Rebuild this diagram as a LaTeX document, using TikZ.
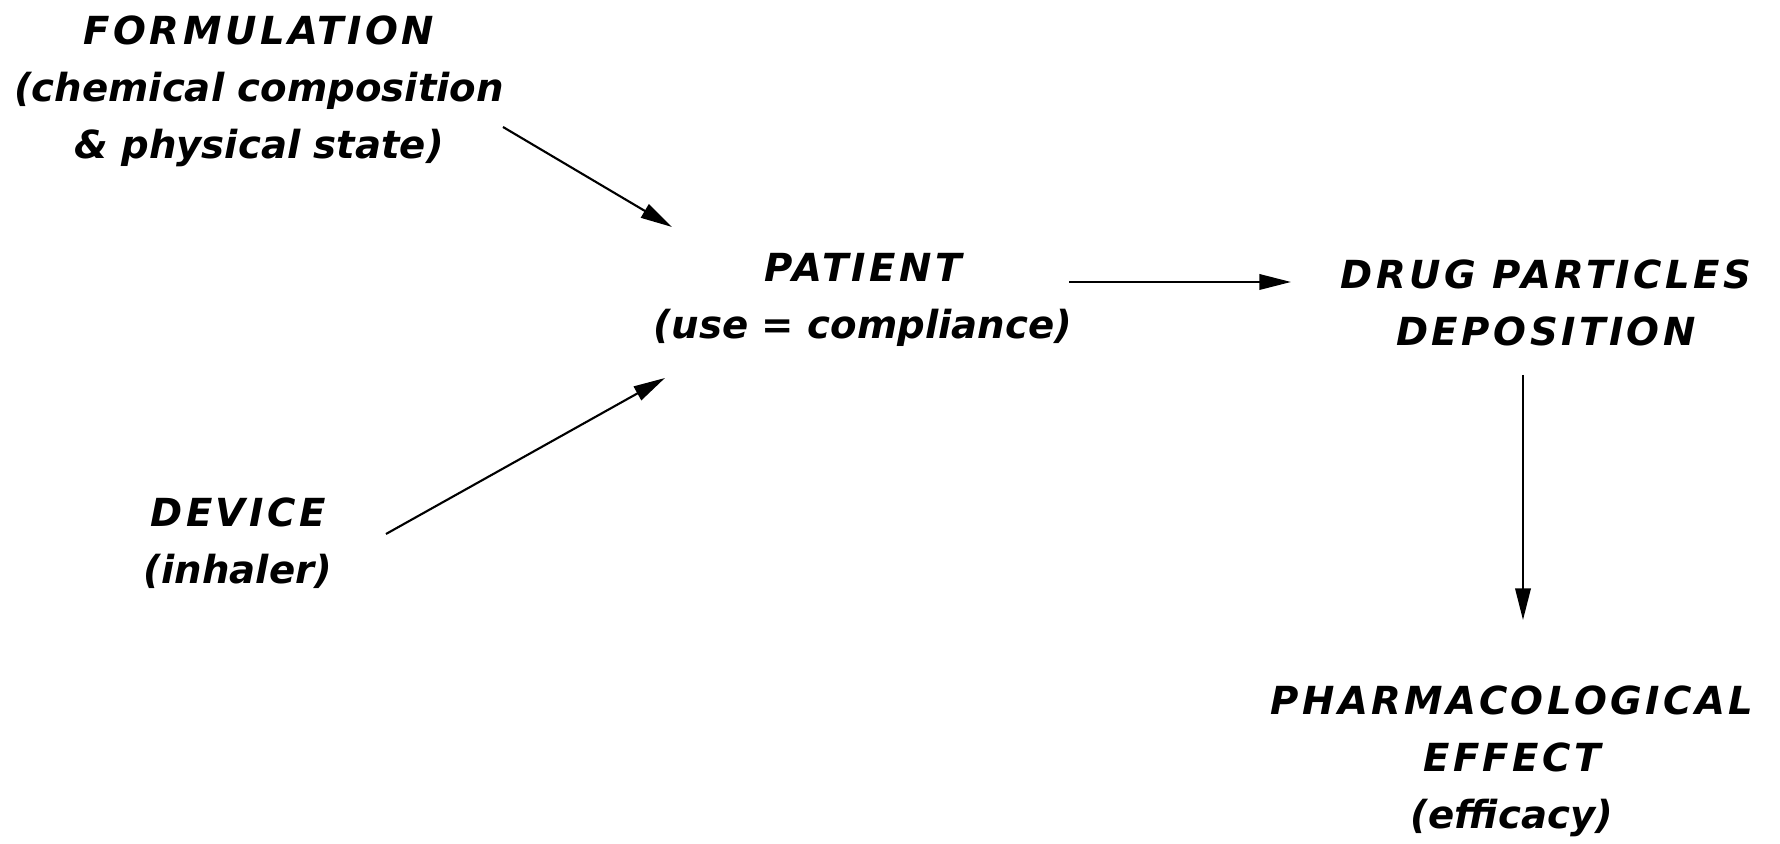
\documentclass[tikz,border=0pt]{standalone}
\usepackage{fontspec}
\setmainfont{DejaVu Sans}
\usetikzlibrary{arrows.meta}
\newcommand{\wide}[1]{{\addfontfeature{LetterSpace=9}#1}}

\begin{document}
\begin{tikzpicture}[
    label/.style={align=center, inner sep=0pt, font=\fontsize{11}{16.2}\selectfont\bfseries\itshape},
    arr/.style={-{Triangle[length=9pt, width=4.4pt]}, line width=0.6pt},
]
\useasboundingbox (0,0) rectangle (17.8,-8.44);

% === Factors ===
\node[label] (form) at (2.59, -0.91) {\wide{FORMULATION}\\(chemical composition\\\& physical state)};
\node[label] (device) at (2.38, -5.43) {\wide{DEVICE}\\(inhaler)};
\node[label] (patient) at (8.63, -3.00) {\wide{PATIENT}\\(use = compliance)};

% === Outcome ===
\node[label] (depo) at (15.46, -3.03) {\wide{DRUG PARTICLES}\\\wide{DEPOSITION}};
\node[label] (effect) at (15.12, -7.61) {\wide{PHARMACOLOGICAL}\\\wide{EFFECT}\\(efficacy)};

% Arrow ends
\coordinate (form_out) at (5.03, -1.27);
\coordinate (form_in) at (6.72, -2.27);
\coordinate (dev_out) at (3.86, -5.34);
\coordinate (dev_in) at (6.65, -3.78);
\coordinate (pat_out) at (10.69, -2.82);
\coordinate (depo_in) at (12.91, -2.82);
\coordinate (depo_out) at (15.23, -3.75);
\coordinate (eff_in) at (15.23, -6.20);

\draw[arr] (form_out) -- (form_in);
\draw[arr] (dev_out) -- (dev_in);
\draw[arr] (pat_out) -- (depo_in);
\draw[arr] (depo_out) -- (eff_in);

\end{tikzpicture}
\end{document}
